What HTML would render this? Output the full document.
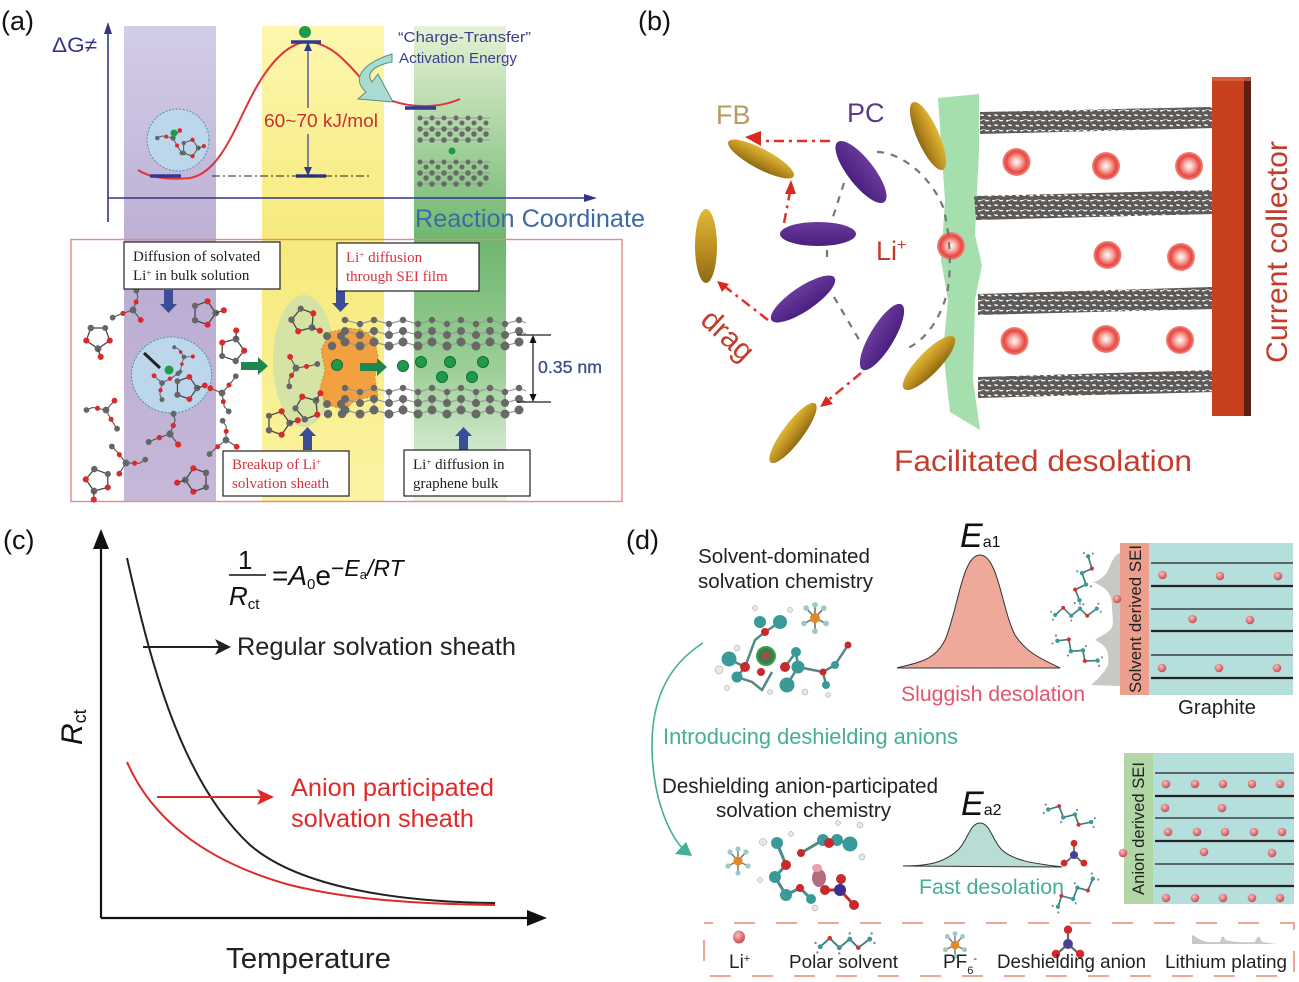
<!DOCTYPE html>
<html><head><meta charset="utf-8"><style>
html,body{margin:0;padding:0;background:#fff}
svg{display:block}
text{font-family:"Liberation Sans",sans-serif}
.s{font-family:"Liberation Serif",serif;font-size:15px}
</style></head><body>
<svg width="1299" height="982" viewBox="0 0 1299 982" xmlns="http://www.w3.org/2000/svg">
<defs>
<linearGradient id="gp" x1="0" y1="0" x2="0" y2="1"><stop offset="0" stop-color="#d3cde8"/><stop offset=".5" stop-color="#bbacd2"/><stop offset="1" stop-color="#c6b8d8"/></linearGradient>
<linearGradient id="gy" x1="0" y1="0" x2="0" y2="1"><stop offset="0" stop-color="#fdf7ae"/><stop offset=".45" stop-color="#f6ea7c"/><stop offset="1" stop-color="#fbf3a2"/></linearGradient>
<linearGradient id="gg" x1="0" y1="0" x2="0" y2="1"><stop offset="0" stop-color="#e6f2d6"/><stop offset=".45" stop-color="#6fb76f"/><stop offset=".72" stop-color="#9ccf98"/><stop offset="1" stop-color="#f0f7ec"/></linearGradient>
<radialGradient id="li" cx=".5" cy=".5" r=".5"><stop offset="0" stop-color="#fff"/><stop offset=".35" stop-color="#f8b0a8"/><stop offset=".75" stop-color="#e8453f"/><stop offset="1" stop-color="#f28a80"/></radialGradient>
<radialGradient id="ball" cx=".4" cy=".35" r=".65"><stop offset="0" stop-color="#f8c0b8"/><stop offset="1" stop-color="#c84a55"/></radialGradient>
<linearGradient id="gold" x1="0" y1="0" x2="0" y2="1"><stop offset="0" stop-color="#e0b838"/><stop offset=".6" stop-color="#b88a1e"/><stop offset="1" stop-color="#8a6a14"/></linearGradient>
<linearGradient id="pur" x1="0" y1="0" x2="0" y2="1"><stop offset="0" stop-color="#6a3a9a"/><stop offset="1" stop-color="#4a1f80"/></linearGradient>
<pattern id="gb" width="14" height="10" patternUnits="userSpaceOnUse"><path d="M0 2.500L14 3.500M0 7.500L14 8.500M3 0L8 10M10 0L15 10M-4 0L1 10" stroke="#5d5a58" stroke-width="3.400" fill="none"/></pattern>
<g id="lm" transform="scale(.85)"><path d="M0 0L-16 -3M0 0L10 -11M0 0L7 13M-16 -3L-25 1M7 13L13 22" stroke="#555" stroke-width="1.300" fill="none"/><circle r="4" fill="#666"/><circle cx="-10" cy="-2" r="3" fill="#d92b2b"/><circle cx="-23" cy="0" r="3.400" fill="#666"/><circle cx="10" cy="-11" r="3.400" fill="#d92b2b"/><circle cx="6" cy="11" r="3" fill="#d92b2b"/><circle cx="13" cy="22" r="3.400" fill="#666"/></g>
<g id="rm" transform="scale(.9)"><path d="M-10 -8L4 -13L13 0L4 13L-10 8Z" stroke="#444" stroke-width="1.400" fill="none"/><circle cx="-10" cy="-8" r="3.400" fill="#666"/><circle cx="4" cy="-13" r="3.400" fill="#d92b2b"/><circle cx="13" cy="0" r="3.800" fill="#666"/><circle cx="4" cy="13" r="3.400" fill="#d92b2b"/><circle cx="-10" cy="8" r="3.600" fill="#666"/><path d="M13 0L22 -3" stroke="#444" stroke-width="1.400"/><circle cx="22" cy="-3" r="3.400" fill="#d92b2b"/></g>
<g id="sv"><path d="M-26 5L-16 -4L-6 6L5 -3L14 6L26 -3" stroke="#3d7f7a" stroke-width="2" fill="none"/><circle cx="-26" cy="5" r="2.600" fill="#3a9a9a"/><circle cx="-16" cy="-4" r="2.400" fill="#d43232"/><circle cx="-6" cy="6" r="2.600" fill="#3a9a9a"/><circle cx="5" cy="-3" r="2.600" fill="#3a9a9a"/><circle cx="14" cy="6" r="2.400" fill="#d43232"/><circle cx="26" cy="-3" r="2.600" fill="#3a9a9a"/><circle cx="-31" cy="1" r="1.300" fill="#888"/><circle cx="-29" cy="11" r="1.300" fill="#888"/><circle cx="-6" cy="12" r="1.300" fill="#888"/><circle cx="5" cy="-9" r="1.300" fill="#888"/><circle cx="31" cy="1" r="1.300" fill="#888"/><circle cx="28" cy="-9" r="1.300" fill="#888"/></g>
<g id="pf"><path d="M0 0L-8 -9M0 0L8 -9M0 0L-10 5M0 0L10 5M0 0L0 -12M0 0L0 12" stroke="#777" stroke-width="1.500"/><circle r="4.500" fill="#e08a24"/><circle cx="-8" cy="-9" r="2.600" fill="#9ccbc4"/><circle cx="8" cy="-9" r="2.600" fill="#9ccbc4"/><circle cx="-10" cy="5" r="2.600" fill="#9ccbc4"/><circle cx="10" cy="5" r="2.600" fill="#9ccbc4"/><circle cy="-12" r="2.600" fill="#9ccbc4"/><circle cy="12" r="2.600" fill="#9ccbc4"/></g>
<g id="an"><path d="M0 0L0 -12M0 0L-10 9M0 0L10 9" stroke="#666" stroke-width="2"/><circle r="4.500" fill="#4a3f98"/><circle cy="-13" r="3.800" fill="#d22a2a"/><circle cx="-11" cy="9" r="3.800" fill="#d22a2a"/><circle cx="11" cy="9" r="3.800" fill="#d22a2a"/></g>
<circle id="b" r="4.300" fill="url(#ball)"/>
<circle id="l" r="14" fill="url(#li)"/>
<g id="sheet">
<path d="M0 3L15 7L29 3L44 7L58 3L73 7L87 3L102 7L116 3L131 7L145 3L160 7L174 3L181 6M0 14L15 18L29 14L44 18L58 14L73 18L87 14L102 18L116 14L131 18L145 14L160 18L174 14L181 17M0 25L15 29L29 25L44 29L58 25L73 29L87 25L102 29L116 25L131 29L145 25L160 29L174 25M15 7V18M44 7V18M73 7V18M102 7V18M131 7V18M160 7V18M29 14V25M58 14V25M87 14V25M116 14V25M145 14V25" stroke="#9a9a98" stroke-width="1.200" fill="none"/>
<g fill="none" stroke="#686866" stroke-linecap="round">
<path d="M0 3H182" stroke-width="6.500" stroke-dasharray="0 29"/>
<path d="M15 7H182" stroke-width="6.500" stroke-dasharray="0 29"/>
<path d="M0 14H182" stroke-width="8" stroke-dasharray="0 29"/>
<path d="M15 18H182" stroke-width="8" stroke-dasharray="0 29"/>
<path d="M0 25H182" stroke-width="9" stroke-dasharray="0 29"/>
<path d="M15 29H182" stroke-width="9" stroke-dasharray="0 29"/>
</g></g>
<g id="mini" fill="none" stroke="#6a6a68" stroke-linecap="round"><path d="M0 2H70M0 13H70M0 24H70" stroke="#9a9a98" stroke-width="1" /><path d="M0 2H70" stroke-width="5" stroke-dasharray="0 12"/><path d="M6 7H70" stroke-width="5" stroke-dasharray="0 12"/><path d="M0 13H70" stroke-width="5.500" stroke-dasharray="0 12"/><path d="M6 18H70" stroke-width="5.500" stroke-dasharray="0 12"/><path d="M0 24H70" stroke-width="5.500" stroke-dasharray="0 12"/></g>
</defs>

<!-- (a) -->
<text x="1" y="30" font-size="27" fill="#111">(a)</text>
<rect x="124" y="26" width="92" height="476" fill="url(#gp)"/>
<rect x="262" y="26" width="122" height="476" fill="url(#gy)"/>
<rect x="414" y="26" width="92" height="476" fill="url(#gg)"/>
<path d="M108 222V30M108 198H590" stroke="#33358a" stroke-width="1.600" fill="none"/>
<path d="M108 22l-4 12h8zM597 198l-13 -4v8z" fill="#33358a"/>
<text x="52" y="52" font-size="21" fill="#33358a" textLength="45" lengthAdjust="spacingAndGlyphs">ΔG≠</text>
<path d="M138 170C150 178 170 180 190 178C225 172 240 110 262 78C280 50 298 40 312 42C345 48 358 84 385 98C405 107 435 110 460 99" stroke="#e0343c" stroke-width="2" fill="none"/>
<path d="M150 176H181M291 42H321M405 108H436M296 176H326" stroke="#2f3a90" stroke-width="3.500"/>
<circle cx="305" cy="32" r="6" fill="#1f9a4a"/>
<path d="M308 46V108M308 134V172" stroke="#2f3a90" stroke-width="1.200"/>
<path d="M308 42l-4 9h8zM308 176l-4 -9h8z" fill="#2f3a90"/>
<path d="M212 176H372" stroke="#222" stroke-width="1" stroke-dasharray="8 3 2 3"/>
<text x="264" y="127" font-size="18.500" fill="#c9302c" textLength="114" lengthAdjust="spacingAndGlyphs">60~70 kJ/mol</text>
<text x="398" y="42" font-size="15" fill="#3a3f8e" textLength="133" lengthAdjust="spacingAndGlyphs">“Charge-Transfer”</text>
<text x="399" y="63" font-size="15" fill="#3a3f8e" textLength="118" lengthAdjust="spacingAndGlyphs">Activation Energy</text>
<path d="M392 54C360 64 352 80 366 92L358 99L393 102L378 74L372 82C366 74 372 66 392 62Z" fill="#a9dcd0" stroke="#5a8a8a" stroke-width="1"/>
<text x="415" y="227" font-size="25" fill="#3d6aa5" textLength="230" lengthAdjust="spacingAndGlyphs">Reaction Coordinate</text>
<circle cx="178" cy="140" r="31" fill="#bcd6ec" stroke="#4a9a9a" stroke-width="1" stroke-dasharray="2 1.500"/>
<use href="#lm" transform="translate(173,138) scale(.8)"/><use href="#rm" transform="translate(190,148) scale(.7)"/><circle cx="174" cy="133" r="3.500" fill="#1f9a4a"/>
<use href="#mini" transform="translate(420,116)"/>
<use href="#mini" transform="translate(420,160)"/>
<circle cx="452" cy="151" r="3.500" fill="#1f9a4a"/>

<rect x="71" y="239.500" width="551" height="262" fill="none" stroke="#e58a8a" stroke-width="1.400"/>
<ellipse cx="304" cy="361" rx="31" ry="66" fill="#cfe0a8" opacity=".85"/>
<path d="M330 332L348 328L362 330L374 338L378 356L375 378L378 396L355 400L345 410L325 404L320 388L325 370L321 350Z" fill="#f3a040" stroke="#b8862a" stroke-width=".8" stroke-dasharray="2 2"/>
<use href="#sheet" transform="translate(345,317)"/>
<use href="#sheet" transform="translate(345,385)"/>
<g fill="none" stroke="#686866" stroke-linecap="round"><path d="M327 336H345" stroke-width="8" stroke-dasharray="0 14"/><path d="M332 346H345" stroke-width="8.500" stroke-dasharray="0 14"/><path d="M327 404H345" stroke-width="8" stroke-dasharray="0 14"/><path d="M328 414H345" stroke-width="8.500" stroke-dasharray="0 14"/></g>
<g fill="#1f9a4a" stroke="#176a36"><circle cx="337" cy="365" r="5.500"/><circle cx="403" cy="366" r="5.500"/><circle cx="421" cy="362" r="5.500"/><circle cx="450" cy="362" r="5.500"/><circle cx="483" cy="362" r="5.500"/><circle cx="442" cy="377" r="5.500"/><circle cx="472" cy="377" r="5.500"/></g>
<path d="M241 362H258V357L268 366L258 375V370H241ZM360 363H377V358L387 367L377 376V371H360Z" fill="#21854f"/>
<ellipse cx="171.500" cy="375" rx="40" ry="38" fill="#bcd6ec" stroke="#4a9a9a" stroke-width="1" stroke-dasharray="2 1.500"/>
<use href="#lm" transform="translate(162,383) rotate(-90) scale(.85)"/><use href="#lm" transform="translate(184,357) rotate(45) scale(.7)"/><use href="#rm" transform="translate(186,388) scale(.95)"/><path d="M144 353L160 368" stroke="#222" stroke-width="3"/><circle cx="169" cy="370" r="4.500" fill="#1f9a4a"/>
<use href="#lm" transform="translate(133,310) rotate(100)"/><use href="#rm" transform="translate(98,337) rotate(90)"/><use href="#rm" transform="translate(204,313)"/>
<use href="#rm" transform="translate(232,350) rotate(-70)"/><use href="#lm" transform="translate(106,410)"/><use href="#lm" transform="translate(222,393) rotate(-110)"/><use href="#lm" transform="translate(170,434) rotate(100) scale(1.050)"/><use href="#lm" transform="translate(226,440) rotate(80)"/>
<use href="#lm" transform="translate(126,463) rotate(170)"/><use href="#rm" transform="translate(98,480) rotate(110)"/><use href="#rm" transform="translate(197,480) rotate(180)"/><use href="#rm" transform="translate(278,423)"/>
<use href="#rm" transform="translate(303,320) rotate(40)"/><use href="#lm" transform="translate(296,368) rotate(-70)"/><use href="#rm" transform="translate(307,408) rotate(-40)"/>
<path d="M164 290H173V304H177L168.500 313L160 304H164ZM336 288H345V303H349L340.500 312L332 303H336ZM303 450H312V436H316L307.500 427L299 436H303ZM459 450H468V436H472L463.500 427L455 436H459Z" fill="#3b4d96"/>
<path d="M517 335H551M517 402H551M533 338V399" stroke="#222" stroke-width="1.300" fill="none"/><path d="M533 335l-3.500 8h7zM533 402l-3.500 -8h7z" fill="#111"/>
<text x="538" y="373" font-size="17.500" fill="#3d4a8e" stroke="#3d4a8e" stroke-width=".3" textLength="64" lengthAdjust="spacingAndGlyphs">0.35 nm</text>
<g fill="#fff" stroke="#222" stroke-width="1.200"><rect x="124" y="242" width="156" height="47"/><rect x="337" y="243" width="142" height="48"/><rect x="223" y="451" width="126" height="45"/><rect x="404" y="450" width="126" height="46"/></g>
<text class="s" x="133" y="261" fill="#222">Diffusion of solvated</text>
<text class="s" x="133" y="280" fill="#222">Li<tspan dy="-4" font-size="9">+</tspan><tspan dy="4"> in bulk solution</tspan></text>
<text class="s" x="346" y="262" fill="#d8323c">Li<tspan dy="-4" font-size="9">+</tspan><tspan dy="4"> diffusion</tspan></text>
<text class="s" x="346" y="281" fill="#d8323c">through SEI film</text>
<text class="s" x="232" y="469" fill="#d8323c">Breakup of Li<tspan dy="-4" font-size="9">+</tspan></text>
<text class="s" x="232" y="488" fill="#d8323c">solvation sheath</text>
<text class="s" x="413" y="469" fill="#222">Li<tspan dy="-4" font-size="9">+</tspan><tspan dy="4"> diffusion in</tspan></text>
<text class="s" x="413" y="488" fill="#222">graphene bulk</text>

<!-- (b) -->
<text x="638" y="30" font-size="27" fill="#111">(b)</text>
<path d="M938 98L979 94L979 150L975 235L982 265L975 300L973 380L980 430L950 412L943 350L948 300L941 260L945 200Z" fill="#a6dfae"/>
<g fill="url(#gb)"><path d="M980 112L1210 107L1234 122L1215 128L980 134Z"/><path d="M974 196L1212 190L1232 208L1215 214L976 220Z"/><path d="M978 294L1212 287L1232 304L1215 309L978 315Z"/><path d="M978 377L1212 370L1232 386L1215 392L978 398Z"/></g>
<rect x="1212" y="77" width="33" height="339" fill="#c9401f"/><rect x="1244" y="77" width="7" height="339" fill="#5c2015"/>
<rect x="1212" y="77" width="39" height="4" fill="#d86a4a" opacity=".7"/>
<g><use href="#l" x="1016.500" y="162"/><use href="#l" x="1106" y="166"/><use href="#l" x="1189" y="166"/><use href="#l" x="1107.500" y="255"/><use href="#l" x="1181" y="257"/><use href="#l" x="1014.500" y="341"/><use href="#l" x="1106" y="339"/><use href="#l" x="1180" y="340"/><use href="#l" x="951" y="246"/></g>
<path d="M877 152C900 152 930 175 943 207C950 232 952 270 947 293C940 320 925 340 908 348M844 183L832 220M827 250V264M834 297L861 343" stroke="#777" stroke-width="2.200" fill="none" stroke-dasharray="7 7"/>
<g fill="url(#gold)"><ellipse cx="761" cy="159" rx="37" ry="10" transform="rotate(28 761 159)"/><ellipse cx="928" cy="136" rx="37" ry="11" transform="rotate(66 928 136)"/><ellipse cx="706" cy="246" rx="11" ry="37"/><ellipse cx="929" cy="363" rx="36" ry="11" transform="rotate(-46 929 363)"/><ellipse cx="793" cy="433" rx="37" ry="10" transform="rotate(-53 793 433)"/></g>
<g fill="url(#pur)"><ellipse cx="861" cy="172" rx="38" ry="13" transform="rotate(52 861 172)"/><ellipse cx="818" cy="234" rx="38" ry="12"/><ellipse cx="803" cy="299" rx="38" ry="12" transform="rotate(-34 803 299)"/><ellipse cx="882" cy="337" rx="38" ry="12" transform="rotate(-59 882 337)"/></g>
<g stroke="#e0312c" stroke-width="2.500" stroke-dasharray="10 5 3 5" fill="none"><path d="M830 141H758"/><path d="M784 223L790 192"/><path d="M768 320L724 286"/><path d="M861 373L826 402"/></g>
<g fill="#d8281f"><path d="M745 137L761 131V146Z"/><path d="M791 180L785 194L796 194Z"/><path d="M717 281L729 284L722 292Z"/><path d="M820 407L826 396L833 404Z"/></g>
<text x="716" y="124" font-size="27" fill="#b89a62">FB</text>
<text x="847" y="122" font-size="27" fill="#5a3a8a">PC</text>
<text x="876" y="260" font-size="27" fill="#c23a2a">Li<tspan dy="-10" font-size="16">+</tspan></text>
<text transform="translate(699,322) rotate(43)" font-size="30" fill="#c43d2a">drag</text>
<text transform="translate(1287,363) rotate(-90)" font-size="30" fill="#c43d2a" textLength="222" lengthAdjust="spacingAndGlyphs">Current collector</text>
<text x="894" y="471" font-size="30" fill="#c43d2a" textLength="298" lengthAdjust="spacingAndGlyphs">Facilitated desolation</text>

<!-- (c) -->
<text x="3" y="549" font-size="27" fill="#111">(c)</text>
<path d="M101 918V542M101 918H535" stroke="#111" stroke-width="2.200" fill="none"/>
<path d="M101 529l-8 20h16zM547 918l-20 -8v16z" fill="#111"/>
<path d="M127 558C150 660 180 780 250 845C300 888 400 902 495 903" stroke="#222" stroke-width="2" fill="none"/>
<path d="M127 762C150 815 200 860 290 885C350 900 420 904 495 905" stroke="#e02a2a" stroke-width="2" fill="none"/>
<path d="M143 647H222" stroke="#222" stroke-width="2"/><path d="M231 647L215 639L219 647L215 655Z" fill="#222"/>
<path d="M157 797H264" stroke="#e02a2a" stroke-width="2"/><path d="M274 797L257 789L261 797L257 805Z" fill="#e02a2a"/>
<text x="237" y="655" font-size="25.400" fill="#222" textLength="279" lengthAdjust="spacingAndGlyphs">Regular solvation sheath</text>
<text x="291" y="796" font-size="25.400" fill="#e02a2a" textLength="203" lengthAdjust="spacingAndGlyphs">Anion participated</text>
<text x="291" y="827" font-size="25.400" fill="#e02a2a" textLength="183" lengthAdjust="spacingAndGlyphs">solvation sheath</text>
<text x="226" y="968" font-size="28.800" fill="#222" textLength="165" lengthAdjust="spacingAndGlyphs">Temperature</text>
<text transform="translate(82,745) rotate(-90)" font-size="30" fill="#111"><tspan font-style="italic">R</tspan><tspan font-size="18" dy="4">ct</tspan></text>
<text x="238" y="569" font-size="26" fill="#111">1</text>
<path d="M229 575H266" stroke="#111" stroke-width="1.600"/>
<text x="229" y="605" font-size="26" fill="#111"><tspan font-style="italic">R</tspan><tspan font-size="15" dy="4">ct</tspan></text>
<text x="272" y="585" font-size="28" fill="#111">=<tspan font-style="italic">A</tspan><tspan font-size="15" dy="4">0</tspan><tspan dy="-4">e</tspan><tspan font-size="23" dy="-9">−</tspan><tspan font-size="23" font-style="italic">E</tspan><tspan font-size="13" dy="3">a</tspan><tspan font-size="23" font-style="italic" dy="-3">/RT</tspan></text>

<!-- (d) -->
<text x="626" y="549" font-size="27" fill="#111">(d)</text>
<path d="M703 643C668 665 652 700 652 745C652 795 668 835 686 852" stroke="#45ae96" stroke-width="1.600" fill="none"/>
<path d="M692 856L675 854L686 842Z" fill="#45ae96"/>
<text x="698" y="563" font-size="20.600" fill="#222" textLength="172" lengthAdjust="spacingAndGlyphs">Solvent-dominated</text>
<text x="698" y="588" font-size="20.600" fill="#222" textLength="175" lengthAdjust="spacingAndGlyphs">solvation chemistry</text>
<text x="662" y="793" font-size="20.800" fill="#222" textLength="276" lengthAdjust="spacingAndGlyphs">Deshielding anion-participated</text>
<text x="716" y="817" font-size="20.600" fill="#222" textLength="175" lengthAdjust="spacingAndGlyphs">solvation chemistry</text>
<text x="663" y="744" font-size="22.200" fill="#45ae96" textLength="295" lengthAdjust="spacingAndGlyphs">Introducing deshielding anions</text>

<path d="M897 668C920 662 935 660 945 640C958 610 962 555 980 555C998 555 1002 610 1015 635C1028 655 1045 660 1060 668Z" fill="#eea99a" stroke="#333" stroke-width="1"/>
<path d="M903 866C930 866 945 862 958 850C968 840 970 823 980 823C990 823 992 840 1002 850C1015 862 1040 864 1062 867Z" fill="#b8ddd5" stroke="#333" stroke-width="1"/>
<text x="960" y="547" font-size="34" font-style="italic" fill="#111">E<tspan font-style="normal" font-size="16">a1</tspan></text>
<text x="961" y="815" font-size="34" font-style="italic" fill="#111">E<tspan font-style="normal" font-size="16">a2</tspan></text>
<text x="901" y="701" font-size="21.200" fill="#e0566a" textLength="184" lengthAdjust="spacingAndGlyphs">Sluggish desolation</text>
<text x="919" y="894" font-size="21.400" fill="#45ae96" textLength="145" lengthAdjust="spacingAndGlyphs">Fast desolation</text>

<rect x="1149" y="543" width="144" height="152" fill="#b5dfdc"/>
<rect x="1120" y="543" width="29" height="152" fill="#ec9f8c"/>
<path d="M1120 553C1112 555 1110 570 1105 575C1100 580 1095 582 1093 582C1100 585 1112 590 1112 605C1112 618 1115 625 1110 630C1105 635 1100 636 1095 640C1105 645 1110 650 1108 665C1100 680 1090 684 1092 685L1120 686Z" fill="#c9c8c4"/>
<rect x="1124" y="753" width="29" height="151" fill="#b2d6a6"/>
<rect x="1153" y="753" width="141" height="151" fill="#b5dfdc"/>
<text transform="translate(1141,693) rotate(-90)" font-size="16.800" fill="#222" textLength="148" lengthAdjust="spacingAndGlyphs">Solvent derived SEI</text>
<text transform="translate(1144,895) rotate(-90)" font-size="16.600" fill="#222" textLength="133" lengthAdjust="spacingAndGlyphs">Anion derived SEI</text>
<g stroke="#222"><path d="M1151 563H1293M1151 609H1293M1151 655H1293" stroke-width="1.300"/><path d="M1151 586H1293M1151 631H1293M1151 678H1293" stroke-width="2.200"/><path d="M1155 773H1294M1155 818H1294M1155 864H1294" stroke-width="1.300"/><path d="M1155 796H1294M1155 841H1294M1155 886H1294" stroke-width="2.200"/></g>
<g><use href="#b" x="1162.500" y="575"/><use href="#b" x="1220" y="576"/><use href="#b" x="1278" y="576"/><use href="#b" x="1192.500" y="619"/><use href="#b" x="1250" y="620"/><use href="#b" x="1162" y="668"/><use href="#b" x="1219" y="668"/><use href="#b" x="1277" y="668"/><use href="#b" x="1117" y="599"/>
<use href="#b" x="1166" y="784"/><use href="#b" x="1195" y="784"/><use href="#b" x="1223" y="784"/><use href="#b" x="1252" y="784"/><use href="#b" x="1280" y="784"/><use href="#b" x="1165" y="808"/><use href="#b" x="1222" y="808"/><use href="#b" x="1168" y="832"/><use href="#b" x="1197" y="832"/><use href="#b" x="1225" y="832"/><use href="#b" x="1254" y="832"/><use href="#b" x="1282" y="832"/><use href="#b" x="1204" y="852"/><use href="#b" x="1272" y="853"/><use href="#b" x="1166" y="898"/><use href="#b" x="1195" y="898"/><use href="#b" x="1223" y="898"/><use href="#b" x="1252" y="898"/><use href="#b" x="1280" y="898"/><use href="#b" x="1123" y="853"/></g>
<text x="1178" y="714" font-size="20.300" fill="#222" textLength="78" lengthAdjust="spacingAndGlyphs">Graphite</text>

<!-- top cluster -->
<g stroke="#4f8a88" stroke-width="2.500" fill="none"><path d="M729 659L745 667L755 640L765 632L780 622M745 667L737 677L752 682L762 690L772 672M787 685L798 667L796 652L785 667M798 667L823 672L835 665L848 645M823 672L826 685"/></g>
<g fill="#3a9a9a"><circle cx="729" cy="659" r="7.500"/><circle cx="760" cy="622" r="6"/><circle cx="780" cy="622" r="7"/><circle cx="796" cy="652" r="5"/><circle cx="798" cy="667" r="6.500"/><circle cx="737" cy="677" r="5.500"/><circle cx="787" cy="685" r="7.500"/><circle cx="835" cy="665" r="4"/><circle cx="826" cy="685" r="4"/></g>
<g fill="#c82a2a"><circle cx="765" cy="632" r="4"/><circle cx="745" cy="667" r="5"/><circle cx="785" cy="667" r="5"/><circle cx="761" cy="672" r="4"/><circle cx="848" cy="645" r="3.500"/><circle cx="823" cy="672" r="3.500"/></g>
<g fill="#e8e8e8" stroke="#999" stroke-width=".5"><circle cx="719" cy="670" r="4"/><circle cx="737" cy="648" r="3"/><circle cx="755" cy="608" r="2.500"/><circle cx="790" cy="610" r="2.500"/><circle cx="805" cy="692" r="3"/><circle cx="770" cy="692" r="2.500"/><circle cx="727" cy="688" r="2.500"/><circle cx="828" cy="695" r="2.500"/></g>
<circle cx="766" cy="656" r="9" fill="#3f7a48" stroke="#3aa050" stroke-width="2"/><circle cx="766" cy="656" r="4" fill="#a0504a"/>
<use href="#pf" transform="translate(815,618) scale(1.100)"/>
<g><use href="#sv" transform="translate(1083,578) rotate(-70) scale(.85)"/><use href="#sv" transform="translate(1076,611) scale(.8)"/><use href="#sv" transform="translate(1078,650) rotate(35) scale(.85)"/></g>
<!-- bottom cluster -->
<g stroke="#4f8a88" stroke-width="3" fill="none"><path d="M777 843L786 865L775 877L786 895L800 888L811 899M801 853L823 840L837 840L850 844"/></g>
<g fill="#3a9a9a"><circle cx="777" cy="843" r="6"/><circle cx="775" cy="877" r="6"/><circle cx="786" cy="895" r="6"/><circle cx="811" cy="899" r="5"/><circle cx="823" cy="840" r="6"/><circle cx="837" cy="840" r="6"/><circle cx="850" cy="844" r="7.500"/></g>
<g fill="#c82a2a"><circle cx="786" cy="865" r="5"/><circle cx="801" cy="853" r="4"/><circle cx="800" cy="888" r="4"/><circle cx="829" cy="843" r="5"/><circle cx="854" cy="905" r="5"/><circle cx="841" cy="879" r="5"/></g>
<path d="M840 890L825 890M840 890L841 879M840 890L854 905" stroke="#c82a2a" stroke-width="3"/><circle cx="840" cy="890" r="6" fill="#3c2d8e"/><circle cx="825" cy="890" r="5" fill="#c82a2a"/>
<g fill="#e8e8e8" stroke="#999" stroke-width=".5"><circle cx="763" cy="842" r="3.500"/><circle cx="791" cy="834" r="2.500"/><circle cx="838" cy="823" r="2.500"/><circle cx="860" cy="825" r="3"/><circle cx="862" cy="857" r="3"/><circle cx="815" cy="908" r="3"/><circle cx="760" cy="880" r="2.500"/></g>
<ellipse cx="819" cy="878" rx="7" ry="9" fill="#b46a80"/><ellipse cx="817" cy="868" rx="5" ry="4" fill="#eaa0a8"/>
<use href="#pf" transform="translate(738,861)"/>
<g><use href="#sv" transform="translate(1070,815) rotate(25) scale(.85)"/><use href="#an" transform="translate(1074,855) scale(.9)"/><use href="#sv" transform="translate(1075,892) rotate(-30) scale(.85)"/></g>

<!-- legend -->
<path d="M704 923H1294V976H704Z" fill="none" stroke="#e88a72" stroke-width="1.500" stroke-dasharray="21 21" stroke-dashoffset="-30"/>
<ellipse cx="739" cy="937" rx="6" ry="6.500" fill="url(#ball)"/>
<use href="#sv" transform="translate(845,942) scale(.95)"/>
<use href="#pf" transform="translate(955,945) scale(.95)"/>
<use href="#an" transform="translate(1068,944) scale(1.100)"/>
<path d="M1192 944V935C1196 936 1198 940 1208 942H1220C1222 935 1224 935 1225 940C1230 941 1238 943 1255 942C1258 934 1260 936 1262 942L1277 944Z" fill="#c9c8c4"/>
<text x="729" y="968" font-size="19" fill="#222">Li<tspan font-size="11" dy="-6">+</tspan></text>
<text x="789" y="968" font-size="18.900" fill="#222" textLength="109" lengthAdjust="spacingAndGlyphs">Polar solvent</text>
<text x="943" y="968" font-size="19" fill="#222">PF<tspan font-size="11" dy="6">6</tspan><tspan font-size="11" dy="-12">-</tspan></text>
<text x="997" y="968" font-size="19.200" fill="#222" textLength="149" lengthAdjust="spacingAndGlyphs">Deshielding anion</text>
<text x="1165" y="968" font-size="18.900" fill="#222" textLength="122" lengthAdjust="spacingAndGlyphs">Lithium plating</text>
</svg>
</body></html>
